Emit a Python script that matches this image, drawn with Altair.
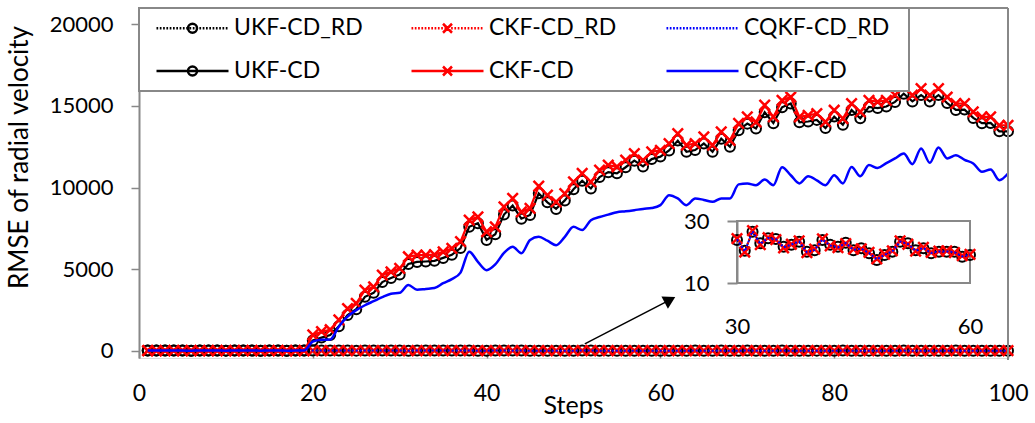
import altair as alt
import pandas as pd

# ---------------- data ----------------
steps = list(range(1, 101))

# RD series (small RMSE, ~20) -- steps 30..60
rd_head = [24.5, 21.8, 23.1, 25.6, 22.4, 20.9, 23.7, 24.8, 22.1, 21.5,
           23.9, 25.2, 22.6, 21.1, 24.3, 23.0, 20.7, 22.8, 24.1, 23.5,
           21.9, 22.7, 25.0, 23.3, 21.4, 22.9, 24.6, 22.2, 23.6]
ukf_rd_mid = [23.9, 20.4, 26.5, 22.8, 24.4, 24.2, 21.7, 22.3, 23.3, 20.1,
              20.6, 23.9, 22.3, 21.7, 23.0, 20.6, 21.2, 19.6, 17.4, 19.0,
              20.1, 23.3, 22.8, 20.6, 21.2, 19.6, 20.1, 20.1, 20.1, 18.5, 19.0]
ckf_rd_mid = [24.3, 20.0, 26.9, 22.4, 24.6, 24.0, 21.3, 22.5, 23.6, 19.8,
              20.9, 24.2, 22.0, 21.4, 22.7, 20.9, 21.0, 19.9, 17.8, 19.3,
              20.4, 23.6, 22.5, 20.3, 21.5, 19.9, 20.3, 20.4, 19.8, 18.8, 19.2]
cqkf_rd_mid = [24.1, 20.2, 26.7, 22.6, 24.5, 24.1, 21.5, 22.4, 23.4, 19.9,
               20.7, 24.0, 22.1, 21.5, 22.9, 20.7, 21.1, 19.7, 17.6, 19.1,
               20.2, 23.4, 22.6, 20.4, 21.3, 19.7, 20.2, 20.2, 19.9, 18.6, 19.1]
rd_tail = [19.8, 21.3, 20.4, 22.1, 19.5, 20.8, 21.7, 19.2, 20.6, 22.4,
           21.0, 19.7, 20.3, 21.9, 20.1, 18.9, 20.7, 21.5, 19.4, 20.2,
           22.0, 20.9, 19.6, 21.2, 20.5, 19.1, 20.8, 21.6, 19.9, 20.4,
           21.3, 19.3, 20.6, 22.2, 20.0, 19.5, 21.1, 20.3, 19.8, 20.7]
ukf_rd = rd_head + ukf_rd_mid + rd_tail
ckf_rd = rd_head + ckf_rd_mid + rd_tail
cqkf_rd = rd_head + cqkf_rd_mid + rd_tail

# CD series: steps 1..19 near zero, then growing
cd_head = [24.5, 21.8, 23.1, 25.6, 22.4, 20.9, 23.7, 24.8, 22.1, 21.5,
           23.9, 25.2, 22.6, 21.1, 24.3, 23.0, 20.7, 22.8, 24.1]
ukf_cd = cd_head + [
    640, 820, 980, 1520, 2200, 2560, 3320, 3560, 4220, 4470,
    4680, 5330, 5450, 5480, 5520, 5700, 5890, 6300, 7600, 7820,
    6800, 7150, 8350, 8900, 8100, 8330, 9650, 9100, 8700, 9220,
    9900, 10420, 9950, 10650, 10950, 10880, 11250, 11650, 11300, 11750,
    11900, 12280, 12880, 12200, 12300, 12700, 12200, 13000, 12500, 13520,
    13920, 13620, 14620, 13950, 14920, 15150, 14000, 14050, 14150, 13650,
    14350, 13850, 14750, 14250, 14950, 14870, 14970, 15250, 15750, 15280,
    15670, 15280, 15670, 15180, 14760, 14780, 14270, 13950, 13960, 13450, 13450]
ckf_cd = cd_head + [
    980, 1180, 1300, 1900, 2600, 2920, 3730, 3930, 4650, 4850,
    5060, 5770, 5870, 5870, 5900, 6070, 6280, 6690, 8010, 8210,
    7300, 7600, 8830, 9340, 8520, 8730, 10100, 9540, 9130, 9640,
    10350, 10870, 10350, 11070, 11380, 11280, 11680, 12090, 11680, 12190,
    12290, 12700, 13310, 12600, 12700, 13110, 12600, 13410, 12900, 13930,
    14330, 14020, 15050, 14330, 15350, 15550, 14330, 14430, 14530, 14030,
    14740, 14230, 15150, 14640, 15350, 15250, 15350, 15660, 16160, 15660,
    16070, 15660, 16070, 15550, 15150, 15150, 14640, 14330, 14330, 13820, 13820]
cqkf_cd = cd_head + [
    570, 680, 700, 1500, 2100, 2500, 2800, 3050, 3300, 3500,
    3560, 4040, 3750, 3800, 3850, 4150, 4400, 4800, 6070, 5460,
    4950, 5300, 6000, 6380, 5980, 6800, 6990, 6750, 6480, 6990,
    7600, 7400, 8010, 8200, 8350, 8500, 8550, 8620, 8700, 8750,
    8930, 9540, 9340, 8930, 9340, 9250, 9130, 9340, 9340, 10200,
    10250, 10150, 10500, 10150, 11250, 10760, 10260, 10700, 10450, 10150,
    10760, 10260, 11270, 10700, 11380, 11210, 11500, 11790, 12090, 11440,
    12400, 11520, 12460, 11790, 11990, 11700, 11480, 10970, 11110, 10460, 10870]

series_names = ["UKF-CD_RD", "CKF-CD_RD", "CQKF-CD_RD", "UKF-CD", "CKF-CD", "CQKF-CD"]
series_values = [ukf_rd, ckf_rd, cqkf_rd, ukf_cd, ckf_cd, cqkf_cd]
series_colors = ["#000000", "#FF0000", "#0000FF", "#000000", "#FF0000", "#0000FF"]

x_ticks = [0, 20, 40, 60, 80, 100]
y_ticks = [0, 5000, 10000, 15000, 20000]
x_domain = [0, 100]
y_domain = [-430, 21000]
inset_x_ticks = [30, 60]
inset_y_ticks = [10, 30]

arrow_from = (51.3, 430)
arrow_to = (61.1, 3130)

rows = []
for name, vals in zip(series_names, series_values):
    for s, v in zip(steps, vals):
        rows.append({"step": s, "value": v, "series": name})
df = pd.DataFrame(rows)

# ---------------- layout ----------------
W, H = 869, 350
FONT = "Lato"
GREY = "#888888"
INSET_X_RANGE = [598, 831]
INSET_Y_RANGE = [275, 213]

x_axis = alt.Axis(values=x_ticks, domain=False, grid=False, tickSize=7, offset=-7,
                  tickColor=GREY, tickWidth=1.5, labelPadding=24, labelFontSize=23,
                  labelFlush=False, labelOverlap=False,
                  labelFont=FONT, labelColor="black", title="Steps", titleFont=FONT,
                  titleFontSize=25, titleFontWeight="normal", titleColor="black",
                  titleX=434, titleY=62, titleBaseline="alphabetic")
y_axis = alt.Axis(values=y_ticks, format="d", grid=False, domainColor=GREY, domainWidth=2,
                  tickColor=GREY, tickWidth=1.5, tickSize=8, labelPadding=18,
                  labelFontSize=22, labelFont=FONT, labelColor="black", labelFlush=False,
                  title="RMSE of radial velocity", titleFont=FONT, titleFontSize=26,
                  titleFontWeight="normal", titleColor="black", titleX=-112, titleY=149,
                  titleBaseline="alphabetic")

def mx(field="step"):
    return alt.X(f"{field}:Q", scale=alt.Scale(domain=x_domain, nice=False, zero=False), axis=x_axis)

def my(field="value"):
    return alt.Y(f"{field}:Q", scale=alt.Scale(domain=y_domain, nice=False, zero=False), axis=y_axis)

ix_axis = alt.Axis(values=inset_x_ticks, orient="bottom", offset=-52, domain=False, ticks=False,
                   grid=False, labelPadding=10, labelFontSize=22, labelFont=FONT,
                   labelFlush=False, labelColor="black", title=None)
iy_axis = alt.Axis(values=inset_y_ticks, orient="left", offset=-598, grid=False,
                   domainColor=GREY, domainWidth=2, tickColor=GREY, tickWidth=2, tickSize=10,
                   labelPadding=18, labelFontSize=22, labelFont=FONT, labelColor="black",
                   labelFlush=False, title=None)

def ix(field="step"):
    return alt.X(f"{field}:Q", scale=alt.Scale(domain=[min(inset_x_ticks), max(inset_x_ticks)],
                 range=INSET_X_RANGE, nice=False, zero=False), axis=ix_axis)

def iy(field="value"):
    return alt.Y(f"{field}:Q", scale=alt.Scale(domain=[min(inset_y_ticks), max(inset_y_ticks)],
                 range=INSET_Y_RANGE, nice=False, zero=False), axis=iy_axis)

CROSS = "M-1,-1L1,1M-1,1L1,-1"

def series_layers(name, color, dotted, marker, xenc, yenc, filt=None):
    cond = alt.datum.series == name
    if filt is not None:
        cond = cond & filt
    src = alt.Chart(df).transform_filter(cond)
    line_kw = dict(color=color, strokeWidth=2.2 if not dotted else 2)
    if dotted:
        line_kw["strokeDash"] = [2, 2]
    if name == "CQKF-CD":
        line_kw["interpolate"] = "monotone"
        line_kw["strokeWidth"] = 2.5
    out = [src.mark_line(**line_kw).encode(x=xenc(), y=yenc())]
    if marker == "circle":
        out.append(src.mark_point(shape="circle", filled=False, size=100, strokeWidth=2,
                                  color=color, opacity=1).encode(x=xenc(), y=yenc()))
    elif marker == "x":
        out.append(src.mark_point(shape=CROSS, filled=False, size=110, strokeWidth=2.5,
                                  color=color, opacity=1).encode(x=xenc(), y=yenc()))
    return out

markers = ["circle", "x", None, "circle", "x", None]
dots = [True, True, True, False, False, False]

main_layers = []
for name, color, dt, mk in zip(series_names, series_colors, dots, markers):
    main_layers += series_layers(name, color, dt, mk, mx, my)

# plot border (top, right)
one = pd.DataFrame({"k": [0]})
top_border = alt.Chart(one).mark_rule(color=GREY, strokeWidth=2).encode(
    x=alt.value(0), x2=alt.value(W), y=alt.value(0))
right_border = alt.Chart(one).mark_rule(color=GREY, strokeWidth=2).encode(
    x=alt.value(W), y=alt.value(0), y2=alt.value(H + 2))

# legend frame
legend_frame = alt.Chart(one).mark_rect(fill="white", stroke=GREY, strokeWidth=2).encode(
    x=alt.value(0), x2=alt.value(770), y=alt.value(0), y2=alt.value(83))

# legend symbols: line (dotted / solid) with marker
L0, L1 = -1.0, 6.2
MID = (L0 + L1) / 2
def dotted_path(a, b, period=0.33, dash=0.17):
    parts = []
    x = a
    while x < b - 1e-6:
        parts.append(f"M{x:.3f},0L{min(x + dash, b):.3f},0")
        x += period
    return "".join(parts)
solid_path = f"M{L0},0L{L1},0"
rr = 0.45
circle_path = (f"M{MID - rr:.3f},0A{rr},{rr} 0 1,0 {MID + rr:.3f},0"
               f"A{rr},{rr} 0 1,0 {MID - rr:.3f},0")
x_path = (f"M{MID - rr:.3f},{-rr}L{MID + rr:.3f},{rr}"
          f"M{MID - rr:.3f},{rr}L{MID + rr:.3f},{-rr}")
dp = dotted_path(L0, L1)
shape_by_name = dict(zip(series_names, [dp + circle_path, dp + x_path, dp,
                                         solid_path + circle_path, solid_path + x_path,
                                         solid_path]))
color_by_name = dict(zip(series_names, series_colors))
# legend is filled column by column (2 rows x 3 columns)
legend_order = [series_names[i] for i in (0, 3, 1, 4, 2, 5)]

legend_layer = alt.Chart(df).transform_filter(alt.datum.step < 0).mark_point(
    filled=False, opacity=1).encode(
    x=mx(), y=my(),
    color=alt.Color("series:N",
                    scale=alt.Scale(domain=legend_order,
                                    range=[color_by_name[n] for n in legend_order]),
                    legend=alt.Legend(orient="none", legendX=16, legendY=8.5, columns=3,
                                      gridAlign="all", columnPadding=26, rowPadding=19,
                                      symbolSize=400, symbolStrokeWidth=2.5, labelOffset=56,
                                      labelFontSize=23, labelFont=FONT, labelColor="black",
                                      labelLimit=400, title=None, padding=0)),
    shape=alt.Shape("series:N",
                    scale=alt.Scale(domain=legend_order,
                                    range=[shape_by_name[n] for n in legend_order])),
)

# arrow
arrow_df = pd.DataFrame({"step": [arrow_from[0]], "value": [arrow_from[1]],
                         "step2": [arrow_to[0]], "value2": [arrow_to[1]]})
arrow_line = alt.Chart(arrow_df).mark_rule(color="black", strokeWidth=1.5).encode(
    x=mx(), y=my(), x2="step2:Q", y2="value2:Q")
head_df = pd.DataFrame({"step": [arrow_to[0]], "value": [arrow_to[1]]})
arrow_head = alt.Chart(head_df).mark_point(shape="triangle-up", filled=True, color="black",
                                           size=190, angle=62, opacity=1).encode(x=mx(), y=my())

main = alt.layer(*main_layers, arrow_line, arrow_head, top_border, right_border,
                 legend_frame, legend_layer)

# inset
frame_df = pd.DataFrame({"step": [min(inset_x_ticks)], "step2": [max(inset_x_ticks)],
                         "value": [min(inset_y_ticks)], "value2": [max(inset_y_ticks)]})
inset_frame = alt.Chart(frame_df).mark_rect(fill=None, stroke=GREY, strokeWidth=2).encode(
    x=ix(), x2="step2:Q", y=iy(), y2="value2:Q")
in_filter = (alt.datum.step >= min(inset_x_ticks)) & (alt.datum.step <= max(inset_x_ticks))
inset_layers = [inset_frame]
for name, color, dt, mk in list(zip(series_names, series_colors, dots, markers))[:3]:
    inset_layers += series_layers(name, color, dt, mk, ix, iy, in_filter)
inset = alt.layer(*inset_layers)

chart = alt.layer(main, inset).resolve_scale(x="independent", y="independent").properties(
    width=W, height=H,
    padding={"left": 139, "top": 8, "right": 1035 - 139 - W, "bottom": 423 - 8 - H},
    autosize=alt.AutoSizeParams(type="none"),
).configure_view(stroke=None).configure(font=FONT)

chart.save("out.html", embed_options={"renderer": "svg", "actions": False})
